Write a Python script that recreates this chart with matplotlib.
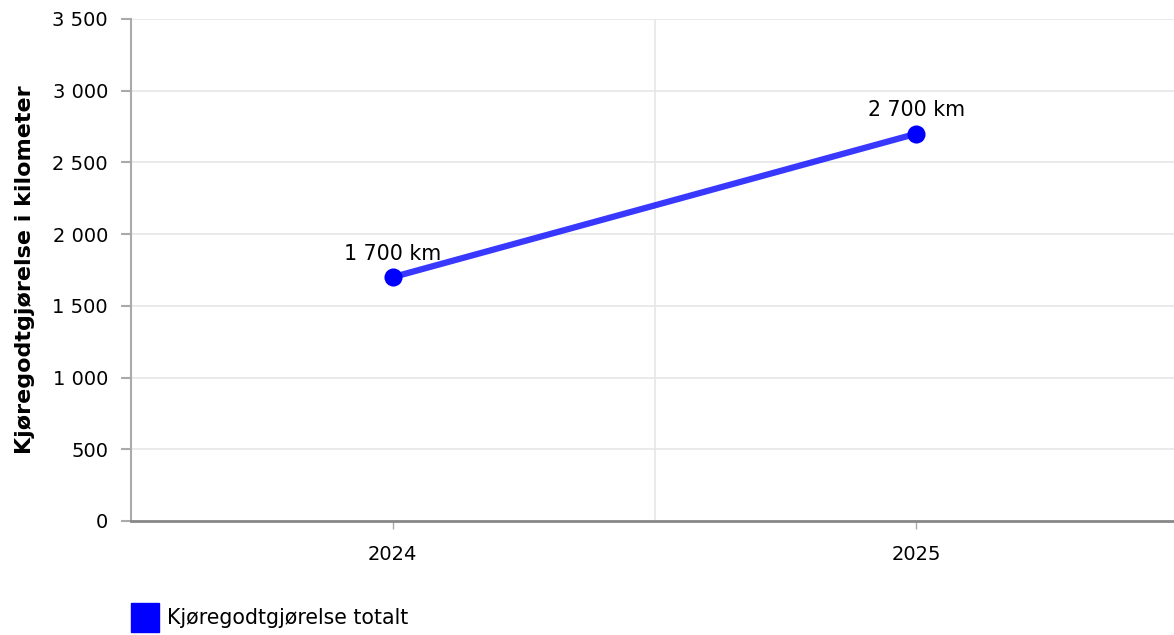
import matplotlib
matplotlib.use("Agg")
import matplotlib.pyplot as plt
from matplotlib.patches import Rectangle

categories = ["2024", "2025"]
values = [1700, 2700]
labels = ["1 700 km", "2 700 km"]
y_ticks = [0, 500, 1000, 1500, 2000, 2500, 3000, 3500]
y_tick_labels = ["0", "500", "1 000", "1 500", "2 000", "2 500", "3 000", "3 500"]
series_name = "Kjøregodtgjørelse totalt"
y_title = "Kjøregodtgjørelse i kilometer"

FS = 14
FS2 = 14.8
plt.rcParams['font.family'] = ['DejaVu Sans']
fig = plt.figure(figsize=(11.74, 6.35), dpi=100)
ax = fig.add_axes([131/1174, 114/635, 1047/1174, 502/635])

x = list(range(len(categories)))
ax.plot(x, values, color="#0000ff", alpha=0.78, linewidth=4.5, solid_capstyle="butt", zorder=3)
ax.scatter(x, values, s=170, color="#0000ff", zorder=4, linewidths=0, clip_on=False)
for xi, v, lab in zip(x, values, labels):
    ax.annotate(lab, (xi, v), xytext=(0, 12.5), textcoords="offset points",
                ha="center", va="baseline", fontsize=FS2, color="black")

ax.set_xlim(-0.5, 1.5)
ax.set_ylim(0, 3500)
ax.set_yticks(y_ticks)
ax.set_yticklabels(y_tick_labels, fontsize=FS)
ax.set_xticks(x)
ax.set_xticklabels(categories, fontsize=FS)
ax.set_xticks([-0.5, 0.5, 1.5], minor=True)

ax.grid(axis="y", which="major", color="#e6e6e6", linewidth=1.2, zorder=0)
ax.grid(axis="x", which="minor", color="#e6e6e6", linewidth=1.2, zorder=0)
ax.tick_params(axis="x", which="minor", length=0)
ax.tick_params(axis="y", length=7.5, width=1.5, color="#aaaaaa", pad=9)
ax.tick_params(axis="x", which="major", length=5.5, width=1, color="#aaaaaa", pad=12)

for s in ["top", "right"]:
    ax.spines[s].set_visible(False)
ax.spines["left"].set_color("#aaaaaa")
ax.spines["left"].set_linewidth(1.5)
ax.spines["bottom"].set_color("#888888")
ax.spines["bottom"].set_linewidth(2)

fig.text(25/1174, 1 - 270/635, y_title, rotation=90, ha="center", va="center",
         fontsize=16, fontweight="bold")

fig.patches.append(Rectangle((131/1174, 1 - 632/635), 28/1174, 29/635,
                             transform=fig.transFigure, color="#0000ff"))
fig.text(167/1174, 1 - 618/635, series_name, ha="left", va="center", fontsize=FS2)

fig.savefig("out.png", dpi=100)
